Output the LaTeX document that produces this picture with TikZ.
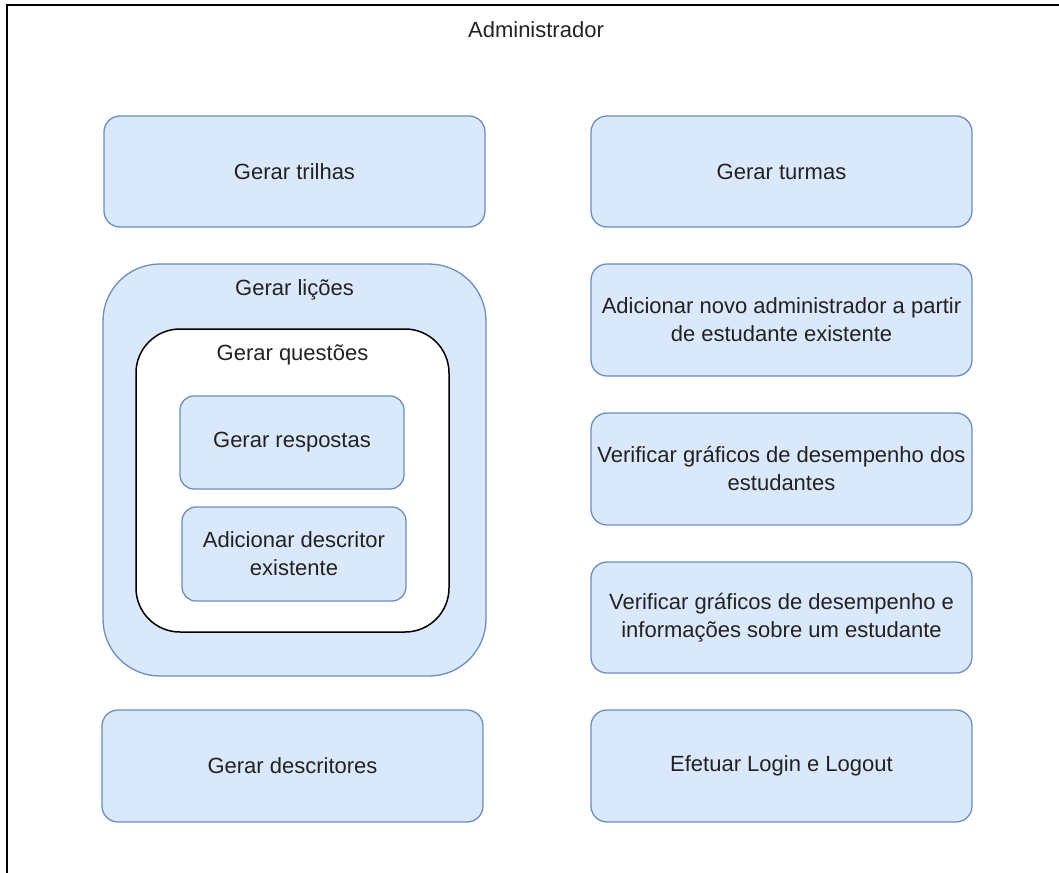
\documentclass[tikz,border=0pt]{standalone}
\usepackage{fontspec}
\setmainfont{Liberation Sans}
\definecolor{boxfill}{HTML}{DAE8FC}
\definecolor{boxdraw}{HTML}{6C8EBF}
\definecolor{txt}{HTML}{222222}
\begin{document}
\begin{tikzpicture}[x=1pt,y=-1pt,
  every node/.style={font=\fontsize{22}{28}\selectfont, text=txt, inner sep=0pt, outer sep=0pt},
  bluebox/.style={draw=boxdraw, fill=boxfill, line width=1.3pt, rounded corners=16pt, align=center},
  cont/.style={draw=boxdraw, fill=boxfill, line width=1.3pt, rounded corners=57pt},
  whitecont/.style={draw=black, fill=white, line width=1.5pt, rounded corners=44pt},
  lbl/.style={anchor=center}]
\useasboundingbox (0,0) rectangle (1059,872);
\begin{scope}
\clip (0,0) rectangle (1059,872);
\draw[line width=2pt, black] (7,5) rectangle (1080,900);
\end{scope}
\node[lbl] (admin) at (536,30) {Administrador};
% left column
\node[bluebox, minimum width=381pt, minimum height=111pt] (trilhas) at (294.5,171.5) {Gerar trilhas};
\node[cont, minimum width=383pt, minimum height=412pt] (licoes) at (294.5,470) {};
\node[lbl] (licoeslbl) at (294.5,290) {Gerar lições};
\node[whitecont, minimum width=313pt, minimum height=303pt] (questoes) at (292.5,480.5) {};
\node[lbl] (questoeslbl) at (292.5,355) {Gerar questões};
\node[bluebox, rounded corners=14pt, minimum width=224pt, minimum height=93pt] (respostas) at (292,442.5) {Gerar respostas};
\node[bluebox, rounded corners=14pt, minimum width=224pt, minimum height=94pt] (descritor) at (294,554) {Adicionar descritor\\existente};
\node[bluebox, minimum width=381pt, minimum height=112pt] (descritores) at (292.5,766) {Gerar descritores};
% right column
\node[bluebox, minimum width=381pt, minimum height=111pt] (turmas) at (781.5,171.5) {Gerar turmas};
\node[bluebox, minimum width=381pt, minimum height=112pt] (novoadm) at (781.5,320) {Adicionar novo administrador a partir\\de estudante existente};
\node[bluebox, minimum width=381pt, minimum height=112pt] (graficos) at (781.5,469) {Verificar gráficos de desempenho dos\\estudantes};
\node[bluebox, minimum width=381pt, minimum height=111pt] (info) at (781.5,617.5) {Verificar gráficos de desempenho e\\informações sobre um estudante};
\node[bluebox, minimum width=381pt, minimum height=112pt] (login) at (781.5,766) {Efetuar Login e Logout};
\end{tikzpicture}
\end{document}
